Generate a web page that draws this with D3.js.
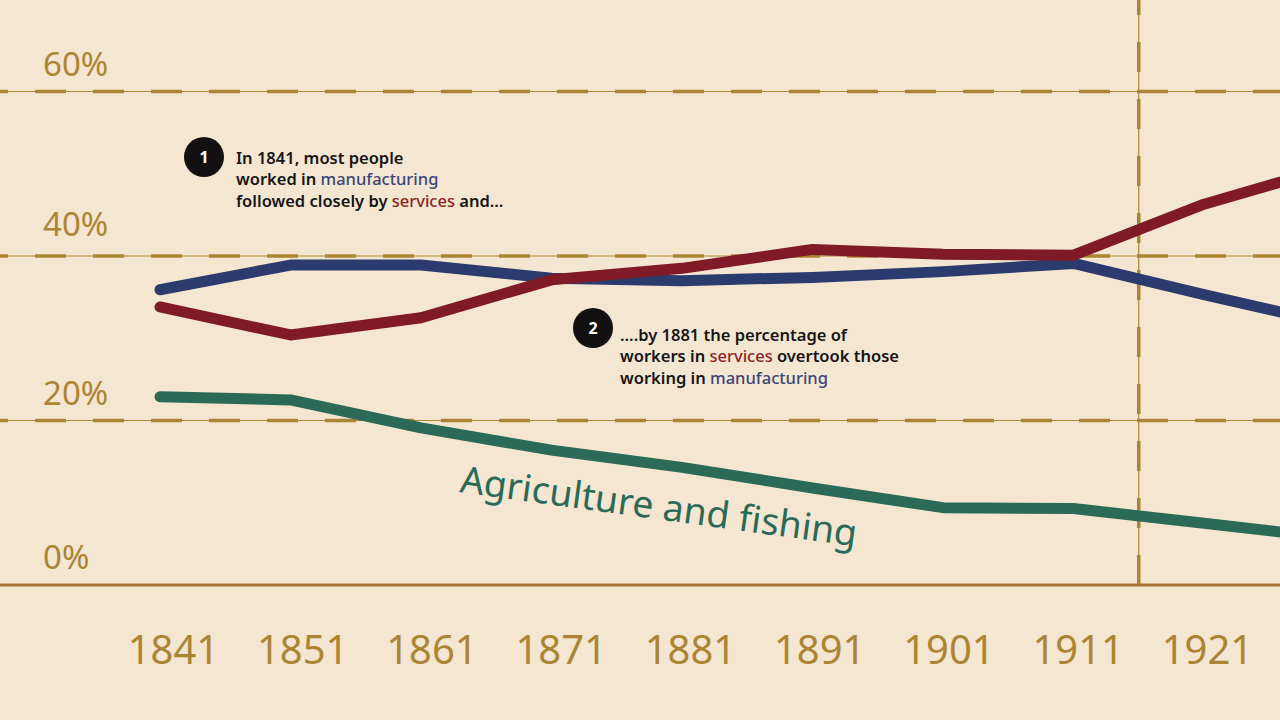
<!DOCTYPE html>
<html>
<head>
<meta charset="utf-8">
<style>
  body { margin: 0; background: #f5e6d1; }
  svg { display: block; }
  text { font-family: "Noto Sans", "Open Sans", sans-serif; }
</style>
</head>
<body>
<script src="https://d3js.org/d3.v7.min.js"></script>
<script>
// census years shown on the axis, plus one off-screen year so the lines run past the edge
var years = [1841, 1851, 1861, 1871, 1881, 1891, 1901, 1911, 1921, 1931];
var tickYears = [1841, 1851, 1861, 1871, 1881, 1891, 1901, 1911, 1921];
var yTicks = [0, 20, 40, 60];
var markerYear = 1916;

// share of workers, percent
var manufacturing = [35.9, 38.9, 38.9, 37.3, 37.0, 37.4, 38.1, 39.1, 35.3, 31.7];
var services      = [33.8, 30.4, 32.5, 37.1, 38.5, 40.8, 40.2, 40.1, 46.3, 50.9];
var agriculture   = [22.9, 22.5, 19.1, 16.4, 14.3, 11.8, 9.4, 9.3, 7.5, 5.7];

var note1 = [
  [{ t: "In 1841, most people" }],
  [{ t: "worked in " }, { t: "manufacturing", c: "man" }],
  [{ t: "followed closely by " }, { t: "services", c: "ser" }, { t: " and..." }]
];
var note2 = [
  [{ t: "....by 1881 the percentage of" }],
  [{ t: "workers in " }, { t: "services", c: "ser" }, { t: " overtook those" }],
  [{ t: "working in " }, { t: "manufacturing", c: "man" }]
];

var W = 1280, H = 720;
var gold = "#ab8533";
var colors = { man: "#2c3b6d", ser: "#7f1a26", agr: "#2a6a57" };
var textColors = { man: "#3b4677", ser: "#8c1f27" };

var svg = d3.select("body").append("svg")
    .attr("width", W)
    .attr("height", H);

svg.append("rect").attr("width", W).attr("height", H).attr("fill", "#f5e6d1");

var x = d3.scaleLinear().domain([1841, 1921]).range([160, 1204]);
var xLabel = d3.scaleLinear().domain([1841, 1921]).range([173, 1207]);
var y = d3.scaleLinear().domain([0, 60]).range([585, 91.5]);

// gridlines: thin line with thick dashes on top
var grid = svg.append("g");
yTicks.filter(function (d) { return d > 0; }).forEach(function (d) {
  grid.append("line")
      .attr("x1", 0).attr("x2", W)
      .attr("y1", y(d)).attr("y2", y(d))
      .attr("stroke", gold).attr("stroke-width", 1.2);
  grid.append("line")
      .attr("x1", 0).attr("x2", W)
      .attr("y1", y(d)).attr("y2", y(d))
      .attr("stroke", gold).attr("stroke-width", 3.5)
      .attr("stroke-dasharray", "31,27")
      .attr("stroke-dashoffset", 23);
});

// vertical marker
grid.append("line")
    .attr("x1", x(markerYear)).attr("x2", x(markerYear))
    .attr("y1", 0).attr("y2", y(0))
    .attr("stroke", gold).attr("stroke-width", 1.2);
grid.append("line")
    .attr("x1", x(markerYear)).attr("x2", x(markerYear))
    .attr("y1", 0).attr("y2", y(0))
    .attr("stroke", gold).attr("stroke-width", 3.5)
    .attr("stroke-dasharray", "30,27")
    .attr("stroke-dashoffset", 15);

// baseline
svg.append("line")
    .attr("x1", 0).attr("x2", W)
    .attr("y1", y(0)).attr("y2", y(0))
    .attr("stroke", "#a2742f").attr("stroke-width", 3);

// y labels sit above their lines
svg.selectAll(".ylab")
    .data(yTicks)
    .enter().append("text")
    .attr("class", "ylab")
    .attr("x", 43)
    .attr("y", function (d) { return y(d) - (d === 40 ? 20 : 16); })
    .attr("fill", gold)
    .style("font-size", "33px")
    .text(function (d) { return d + "%"; });

// x axis labels
var xAxis = d3.axisBottom(xLabel)
    .tickValues(tickYears)
    .tickFormat(d3.format("d"))
    .tickSize(0)
    .tickPadding(0);
var xg = svg.append("g")
    .attr("transform", "translate(0,636)")
    .call(xAxis);
xg.select(".domain").remove();
xg.selectAll("text")
    .attr("fill", gold)
    .attr("dy", "0.71em")
    .style("font-size", "40px")
    .style("font-family", "\"Noto Sans\", sans-serif");

// lines
var line = d3.line()
    .x(function (d, i) { return x(years[i]); })
    .y(function (d) { return y(d); });

[["agr", agriculture], ["man", manufacturing], ["ser", services]].forEach(function (s) {
  svg.append("path")
      .datum(s[1])
      .attr("d", line)
      .attr("fill", "none")
      .attr("stroke", colors[s[0]])
      .attr("stroke-width", 11)
      .attr("stroke-linecap", "round")
      .attr("stroke-linejoin", "round");
});

// series label
svg.append("text")
    .attr("transform", "translate(459,492) rotate(7.8)")
    .attr("fill", colors.agr)
    .style("font-size", "37px")
    .attr("textLength", 400)
    .attr("lengthAdjust", "spacingAndGlyphs")
    .text("Agriculture and fishing");

// numbered notes
function note(num, cx, cy, tx, ty, lines) {
  svg.append("circle")
      .attr("cx", cx).attr("cy", cy).attr("r", 20)
      .attr("fill", "#121010");
  svg.append("text")
      .attr("x", cx).attr("y", cy + 6)
      .attr("text-anchor", "middle")
      .attr("fill", "#fff")
      .style("font-size", "16px")
      .style("font-weight", "bold")
      .text(num);
  var t = svg.append("text")
      .attr("fill", "#151515")
      .style("font-size", "16.5px")
      .style("font-weight", "600");
  lines.forEach(function (parts, i) {
    parts.forEach(function (p, j) {
      var ts = t.append("tspan").text(p.t);
      if (j === 0) ts.attr("x", tx).attr("y", ty + i * 21.3);
      if (p.c) ts.attr("fill", textColors[p.c]).style("font-weight", "500");
    });
  });
}
note("1", 204, 157, 236, 164, note1);
note("2", 593, 328, 620, 341, note2);
</script>
</body>
</html>
